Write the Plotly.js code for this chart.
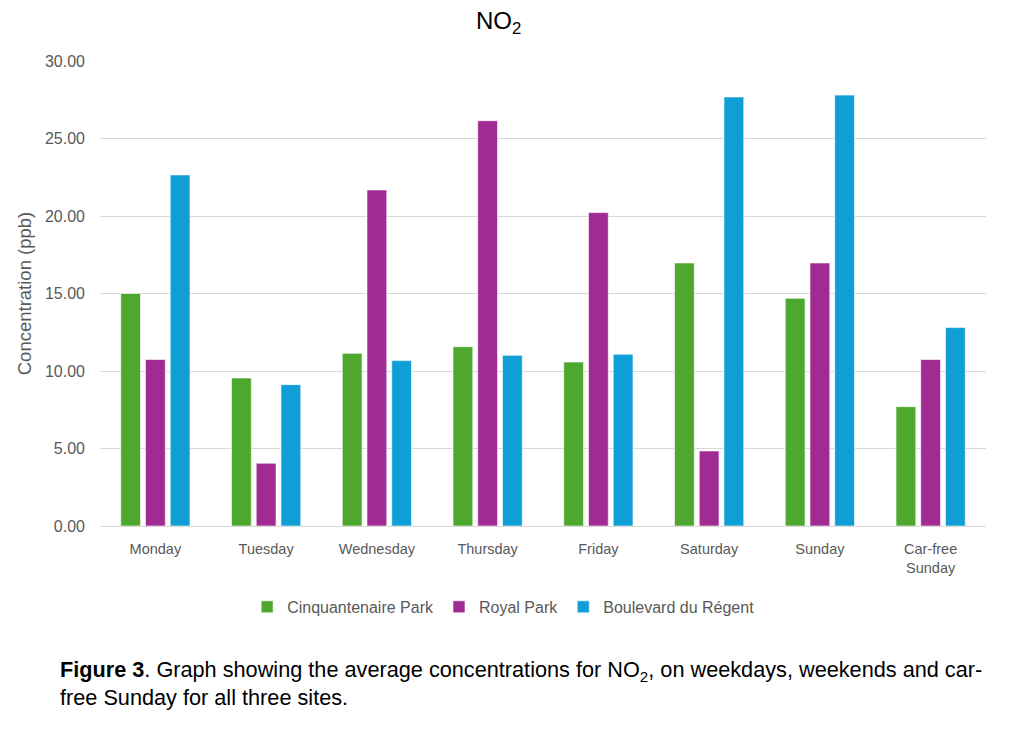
<!DOCTYPE html>
<html>
<head>
<meta charset="utf-8">
<script src="https://cdn.plot.ly/plotly-3.0.1.min.js"></script>
<style>html,body{margin:0;padding:0;background:#fff;}#chart{width:1024px;height:746px;}</style>
</head>
<body>
<div id="chart"></div>
<script>
const categories = ["Monday", "Tuesday", "Wednesday", "Thursday", "Friday", "Saturday", "Sunday", "Car-free<br>Sunday"];
const cinquantenaire = [15.0, 9.55, 11.14, 11.57, 10.58, 16.97, 14.69, 7.70];
const royalPark = [10.74, 4.05, 21.68, 26.15, 20.22, 4.84, 16.97, 10.74];
const boulevard = [22.65, 9.12, 10.67, 11.01, 11.08, 27.68, 27.80, 12.80];
const seriesNames = ["Cinquantenaire Park", "Royal Park", "Boulevard du Régent"];
const colors = ["#4EA72E", "#A02B93", "#0F9ED5"];
const values = [cinquantenaire, royalPark, boulevard];

const traces = values.map((v, i) => ({
  type: "bar",
  name: seriesNames[i],
  x: categories,
  y: v,
  marker: {color: colors[i], line: {color: "rgba(255,255,255,0.6)", width: 1}},
  hoverinfo: "x+y+name"
}));

const layout = {
  width: 1024,
  height: 746,
  paper_bgcolor: "#ffffff",
  plot_bgcolor: "#ffffff",
  font: {family: "Liberation Sans, Arial, sans-serif", color: "#595959", size: 14},
  margin: {l: 100, r: 38, t: 61, b: 220},
  title: {text: "NO<sub>2</sub>", font: {size: 24, color: "#000000"}, x: 0.487, xanchor: "center", y: 0.984, yanchor: "top"},
  barmode: "group",
  bargap: 0.33,
  bargroupgap: 0.2,
  xaxis: {
    tickfont: {size: 14.5, color: "#595959"},
    showgrid: false,
    showline: true,
    linecolor: "#d9d9d9",
    linewidth: 1,
    ticks: "",
    ticklabelstandoff: 10,
    automargin: false
  },
  yaxis: {
    range: [0, 30],
    dtick: 5,
    tickformat: ".2f",
    tickfont: {size: 16, color: "#595959"},
    gridcolor: "#d9d9d9",
    gridwidth: 1,
    zeroline: false,
    showline: false,
    ticks: "",
    ticklen: 0,
    ticklabelstandoff: 14,
    automargin: false,
    title: {text: "Concentration (ppb)", font: {size: 18.5, color: "#595959"}, standoff: 8}
  },
  legend: {
    orientation: "h",
    x: 0.455,
    xanchor: "center",
    y: -0.174,
    yanchor: "middle",
    font: {size: 16, color: "#595959"},
    itemwidth: 30,
    traceorder: "normal"
  },
  annotations: [{
    xref: "paper", yref: "paper",
    x: -0.0474, y: -0.278,
    xanchor: "left", yanchor: "top",
    align: "left",
    showarrow: false,
    text: "<b>Figure 3</b>. Graph showing the average concentrations for NO<sub>2</sub>, on weekdays, weekends and car-<br>free Sunday for all three sites.",
    font: {size: 21.7, color: "#000000", family: "Liberation Sans, Arial, sans-serif"}
  }],
  showlegend: true
};

Plotly.newPlot("chart", traces, layout, {displayModeBar: false, staticPlot: true});
</script>
</body>
</html>
